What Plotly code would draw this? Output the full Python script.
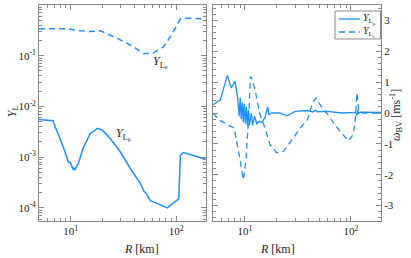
import numpy as np
import plotly.graph_objects as go

# ---------------- data ----------------
# Left panel: lepton fractions (log scale)
R_Le = [5.0, 9.3, 12.3, 15.3, 19.1, 27.7, 39.4, 49, 59.7, 76, 88.7, 110, 137, 191]
Y_Le = [0.34, 0.34, 0.31, 0.30, 0.31, 0.22, 0.15, 0.11, 0.11, 0.15, 0.24, 0.53, 0.55, 0.53]

R_Lmu = [5.0, 6.8, 7.1, 7.5, 7.9, 8.4, 8.9, 9.2, 9.5, 9.9, 10.3, 10.6, 10.8, 11.0, 11.3, 11.8,
         13.1, 15.3, 17.9, 20.0, 23.8, 29.6, 36.9, 43, 46, 49, 53, 57, 64, 71, 83, 88.7,
         106, 110, 118, 191]
Y_Lmu = [0.0055, 0.0052, 0.0040, 0.0031, 0.0023, 0.0017, 0.0012, 0.0010, 0.00080, 0.00078, 0.00062,
         0.00056, 0.00062, 0.00055, 0.00065, 0.00074,
         0.0015, 0.0029, 0.0037, 0.0034, 0.0023, 0.00126, 0.00059, 0.00037, 0.00030, 0.00022,
         0.00018, 0.000138, 0.000125, 0.000115, 0.000100, 0.000113,
         0.00015, 0.0011, 0.00123, 0.00091]

# Right panel: Brunt-Vaisala frequency [ms^-1]
R_w_mu = [5.0, 5.86, 6.8, 7.43, 8.06, 8.49, 8.81, 9.01, 9.21, 9.42, 9.63, 9.84, 10.07, 10.29,
          10.52, 10.76, 11.0, 11.5, 11.8, 12.3, 12.9, 13.7, 14.4, 15.4, 16.1, 16.4, 16.8,
          17.9, 21.4, 24.9, 29.9, 38.8, 44, 46, 48, 60.5, 81.3, 110, 114, 116, 118, 122, 198]
w_mu = [0.27, 0.43, 1.22, 0.81, 1.03, 0.54, -0.1, 0.5, -0.2, 0.35, -0.3, 0.3, -0.35, 0.2,
        -0.4, 0.1, -0.4, 0.0, -0.4, -0.1, -0.35, -0.27, -0.3, -0.16, 0.1, 0.2, -0.05,
        0.0, 0.0, -0.09, 0.05, 0.08, 0.03, 0.09, 0.04, 0.05, 0.0, 0.02, -0.08, 0.1, -0.03, 0.03, 0.02]

R_w_e = [5.0, 5.65, 6.79, 7.88, 8.81, 9.64, 10.2, 10.5, 10.9, 11.25, 11.8, 12.8, 13.7, 15.4,
         17.2, 19.9, 23.1, 27.8, 33.4, 38.8, 43.4, 46.7, 52.1, 60.5, 70.1, 81.3, 94.4, 105,
         110, 114, 118, 127, 198]
w_e = [0.0, -0.22, -0.38, -0.48, -1.35, -2.16, -1.56, -1.0, 0.0, 1.19, 1.08, 0.54, 0.0, -0.48,
       -1.02, -1.29, -1.24, -0.86, -0.48, -0.22, 0.33, 0.49, 0.22, -0.05, -0.38, -0.64, -0.91, -0.70,
       -0.2, 0.65, 0.1, 0.0, 0.0]

x_range_R = [5.0, 192.0]
y_range_left = [10 ** -4.26, 1.0]
y_range_right = [-3.5, 3.5]

left_ticks = [1e-4, 1e-3, 1e-2, 1e-1, 1.0]
left_ticktext = ["10<sup>-4</sup>", "10<sup>-3</sup>", "10<sup>-2</sup>", "10<sup>-1</sup>", "10<sup>0</sup>"]
x_ticks = [10, 100]
x_ticktext = ["10<sup>1</sup>", "10<sup>2</sup>"]
right_ticks = [-3, -2, -1, 0, 1, 2, 3]
right_ticktext = ["-3", "-2", "-1", "0", "1", "2", "3"]

legend_names = ["<i>Y</i><sub>L<sub>μ</sub></sub>", "<i>Y</i><sub>L<sub>e</sub></sub>"]

label_Le_pos = (71, 10 ** -1.125)
label_Lmu_pos = (32, 10 ** -2.55)

# ---------------- style ----------------
BLUE = "#1E8FFF"
GREY = "#8a8a8a"
FONT = "Liberation Serif, DejaVu Serif, serif"
TXT = "#222222"
DASH = "6px,4px"

minor_log_x = [m * 10 ** k for k in range(0, 3) for m in range(2, 10)]
minor_log_y = [m * 10.0 ** k for k in range(-5, 1) for m in range(2, 10)]

fig = go.Figure()

fig.add_trace(go.Scatter(x=R_Lmu, y=Y_Lmu, mode="lines", line=dict(color=BLUE, width=1.5),
                         xaxis="x", yaxis="y", showlegend=False))
fig.add_trace(go.Scatter(x=R_Le, y=Y_Le, mode="lines", line=dict(color=BLUE, width=1.5, dash=DASH),
                         xaxis="x", yaxis="y", showlegend=False))
fig.add_trace(go.Scatter(x=R_w_mu, y=w_mu, mode="lines", line=dict(color=BLUE, width=1.3),
                         xaxis="x2", yaxis="y2", name=legend_names[0], showlegend=False))
fig.add_trace(go.Scatter(x=R_w_e, y=w_e, mode="lines", line=dict(color=BLUE, width=1.3, dash=DASH),
                         xaxis="x2", yaxis="y2", name=legend_names[1], showlegend=False))

common_axis = dict(showline=True, linecolor=GREY, linewidth=1, mirror="allticks",
                   ticks="inside", tickcolor=GREY, ticklen=5, tickwidth=1,
                   showgrid=False, zeroline=False, automargin=False,
                   tickfont=dict(family=FONT, size=11, color=TXT))

xlog = dict(common_axis, type="log", range=[np.log10(x_range_R[0]), np.log10(x_range_R[1])],
            tickmode="array", tickvals=x_ticks, ticktext=x_ticktext,
            minor=dict(tickmode="array", tickvals=minor_log_x, ticks="inside", ticklen=3,
                       tickcolor=GREY))

fig.update_layout(
    width=411, height=258,
    margin=dict(l=39, r=30, t=5, b=37, autoexpand=False),
    paper_bgcolor="white", plot_bgcolor="white",
    font=dict(family=FONT, color=TXT),
    showlegend=False,
    xaxis=dict(xlog, domain=[0, 0.488], anchor="y"),
    xaxis2=dict(xlog, domain=[0.509, 1.0], anchor="y2"),
    yaxis=dict(common_axis, type="log", anchor="x",
               range=[np.log10(y_range_left[0]), np.log10(y_range_left[1])],
               tickmode="array", tickvals=left_ticks, ticktext=left_ticktext,
               minor=dict(tickmode="array", tickvals=minor_log_y, ticks="inside", ticklen=3,
                          tickcolor=GREY)),
    yaxis2=dict(common_axis, anchor="x2", side="right", range=y_range_right,
                tickmode="array", tickvals=right_ticks, ticktext=right_ticktext,
                minor=dict(dtick=0.2, ticks="inside", ticklen=3, tickcolor=GREY)),
)

# compact legend box (drawn in paper coordinates)
lg_x0, lg_x1, lg_y0, lg_y1 = 0.8655, 0.9985, 0.8426, 0.9722
lg_line_x = (0.877, 0.9386)
lg_rows = [0.9352, 0.875]
shapes = [dict(type="rect", xref="paper", yref="paper", x0=lg_x0, x1=lg_x1, y0=lg_y0, y1=lg_y1,
               line=dict(color=GREY, width=1), fillcolor="white", layer="above")]
for row, dash in zip(lg_rows, ["solid", DASH]):
    shapes.append(dict(type="line", xref="paper", yref="paper", x0=lg_line_x[0], x1=lg_line_x[1],
                       y0=row, y1=row, line=dict(color=BLUE, width=1.3, dash=dash), layer="above"))
fig.update_layout(shapes=shapes)

ann = [
    dict(x=np.log10(label_Le_pos[0]), y=np.log10(label_Le_pos[1]), xref="x", yref="y",
         text="<i>Y</i><sub>L<sub>e</sub></sub>", showarrow=False, font=dict(size=12)),
    dict(x=np.log10(label_Lmu_pos[0]), y=np.log10(label_Lmu_pos[1]), xref="x", yref="y",
         text="<i>Y</i><sub>L<sub>μ</sub></sub>", showarrow=False, font=dict(size=12)),
    dict(x=-0.107, y=0.51, xref="paper", yref="paper", text="<i>Y</i><sub>L</sub>",
         textangle=-90, showarrow=False, font=dict(size=12)),
    dict(x=1.074, y=0.49, xref="paper", yref="paper",
         text="<i>ω</i><sub>BV</sub> [ms<sup>-1</sup>]",
         textangle=-90, showarrow=False, font=dict(size=12)),
    dict(x=0.244, y=-0.13, xref="paper", yref="paper", text="<i>R</i> [km]",
         showarrow=False, font=dict(size=12), yanchor="middle"),
    dict(x=0.753, y=-0.13, xref="paper", yref="paper", text="<i>R</i> [km]",
         showarrow=False, font=dict(size=12), yanchor="middle"),
]
for row, name in zip(lg_rows, legend_names):
    ann.append(dict(x=lg_line_x[1] + 0.004, y=row, xref="paper", yref="paper", text=name,
                    showarrow=False, xanchor="left", yanchor="middle", font=dict(size=10)))
fig.update_layout(annotations=ann)

fig.write_html("out.html", config={"displayModeBar": False},
               post_script="document.body.style.margin='0';document.body.style.padding='0';")
